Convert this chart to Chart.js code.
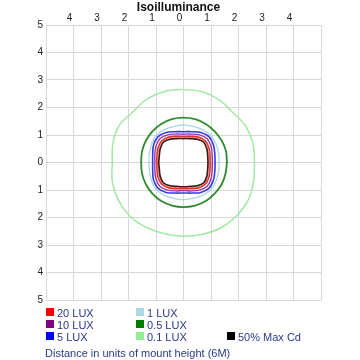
<!DOCTYPE html>
<html><head><meta charset="utf-8">
<script src="https://cdn.jsdelivr.net/npm/chart.js@4.4.0/dist/chart.umd.min.js"></script>
<style>
html,body{margin:0;padding:0;background:#fff;}
#wrap{position:relative;width:360px;height:360px;overflow:hidden;font-family:"Liberation Sans",Arial,sans-serif;}
#title{position:absolute;left:0;top:0;width:357px;text-align:center;font-weight:bold;font-size:12px;line-height:14px;color:#111;}
#cwrap{position:absolute;left:0;top:0;width:360px;height:310px;}
.sw{position:absolute;width:8px;height:8px;}
.lt{position:absolute;font-size:11px;line-height:12px;color:#2a3a8c;white-space:pre;}
</style></head><body>
<div id="wrap">
<div id="cwrap"><canvas id="c" width="360" height="310"></canvas></div>
<div id="title">Isoilluminance</div>
<div id="legend"></div>
<div class="lt" style="left:45px;top:347px;">Distance in units of mount height (6M)</div>
</div>
<script>
// axis ticks
const tickValues = [-5,-4,-3,-2,-1,0,1,2,3,4,5];
// contour sample angles (degrees)
const angles = [0,15,30,45,60,75,90,105,120,135,150,165,180,195,210,225,240,255,270,285,300,315,330,345];
// radii (units of mount height) read at each angle
const r01 = [2.58,2.62,2.62,2.56,2.62,2.66,2.65,2.67,2.66,2.60,2.70,2.66,2.59,2.68,2.74,2.76,2.72,2.68,2.68,2.70,2.74,2.74,2.72,2.64];
const r05 = [1.58,1.60,1.60,1.60,1.62,1.63,1.63,1.63,1.62,1.60,1.58,1.56,1.54,1.56,1.58,1.60,1.62,1.62,1.62,1.62,1.62,1.60,1.60,1.58];
const r1  = [1.30,1.32,1.36,1.40,1.38,1.36,1.37,1.36,1.38,1.40,1.34,1.28,1.26,1.28,1.34,1.40,1.38,1.35,1.35,1.35,1.38,1.40,1.36,1.32];
const r5  = [1.15,1.18,1.26,1.32,1.26,1.16,1.12,1.16,1.26,1.32,1.26,1.16,1.12,1.16,1.26,1.32,1.26,1.15,1.11,1.15,1.26,1.32,1.26,1.18];
const r10 = [1.05,1.08,1.16,1.22,1.16,1.07,1.03,1.07,1.16,1.22,1.16,1.08,1.04,1.08,1.16,1.22,1.16,1.07,1.02,1.07,1.16,1.22,1.16,1.08];
const r20 = [0.97,1.00,1.07,1.12,1.07,0.99,0.95,0.99,1.07,1.12,1.07,1.00,0.97,1.00,1.07,1.12,1.07,0.99,0.95,0.99,1.07,1.12,1.07,1.00];
const r20band = [0.93,0.955,1.025,1.08,1.025,0.945,0.91,0.945,1.025,1.08,1.025,0.955,0.935,0.955,1.025,1.08,1.025,0.945,0.915,0.945,1.025,1.08,1.025,0.955];
const rMax = [0.89,0.91,0.98,1.04,0.98,0.90,0.87,0.90,0.98,1.04,0.98,0.91,0.90,0.91,0.98,1.04,0.98,0.90,0.88,0.90,0.98,1.04,0.98,0.91];

const legendLabels = ['20 LUX','10 LUX','5 LUX','1 LUX','0.5 LUX','0.1 LUX','50% Max Cd'];
const legendColors = ['#ff0000','#800080','#0000ff','#add8e6','#008000','#90ee90','#000000'];

function loop(radii){
  const pts = angles.map((a,i)=>({x: radii[i]*Math.cos(a*Math.PI/180), y: radii[i]*Math.sin(a*Math.PI/180)}));
  pts.push({x: pts[0].x, y: pts[0].y});
  return pts;
}
function ds(label, radii, color, w){
  return {label, data: loop(radii), borderColor: color, borderWidth: w, showLine: true, pointRadius: 0, tension: 0.35, fill: false};
}

Chart.defaults.font.family = '"Liberation Sans", Arial, sans-serif';
const gridColor = '#d8d8d8';
new Chart(document.getElementById('c'), {
  type: 'scatter',
  data: { datasets: [
    ds('50% Max Cd', rMax, '#3a1a10', 1.6),
    ds('20 LUX', r20, '#e03030', 1.4),
    ds('20 LUX band', r20band, 'rgba(240,140,140,0.8)', 3),
    ds('10 LUX', r10, '#9a3aa0', 1.4),
    ds('5 LUX', r5, '#3a3ae8', 1.6),
    ds('1 LUX', r1, '#a8d4e8', 1.2),
    ds('0.5 LUX', r05, '#2e8b2e', 1.8),
    ds('0.1 LUX', r01, '#a4e8a4', 1.5)
  ]},
  options: {
    responsive: false, animation: false, events: [],
    layout: { padding: { left: 0, top: 0, right: 39, bottom: 10 } },
    plugins: { legend: { display: false }, tooltip: { enabled: false }, title: { display: false } },
    scales: {
      x: {
        type: 'linear', position: 'top', min: -5, max: 5,
        afterBuildTicks: s => { s.ticks = tickValues.map(v => ({value: v})); },
        afterFit: s => { s.height = 25; },
        ticks: { callback: v => Math.abs(v) === 5 ? '' : String(Math.abs(v)), labelOffset: -4, padding: 1, color: '#222', font: { size: 10 }, maxRotation: 0, autoSkip: false },
        grid: { color: gridColor, drawTicks: false },
        border: { color: gridColor }
      },
      y: {
        type: 'linear', position: 'left', min: -5, max: 5,
        afterBuildTicks: s => { s.ticks = tickValues.map(v => ({value: v})); },
        afterFit: s => { s.width = 46; },
        ticks: { callback: v => String(Math.abs(v)), padding: 3, color: '#222', font: { size: 10 }, autoSkip: false },
        grid: { color: gridColor, drawTicks: false },
        border: { color: gridColor }
      }
    }
  }
});

// legend (three columns, filled top to bottom)
const cols = [46, 136, 227];
const slots = [[0,0],[0,1],[0,2],[1,0],[1,1],[1,2],[2,2]];
const lg = document.getElementById('legend');
legendLabels.forEach((t,i)=>{
  const [c,r] = slots[i];
  const sw = document.createElement('div'); sw.className='sw';
  sw.style.left = cols[c]+'px'; sw.style.top = (308+12*r)+'px'; sw.style.background = legendColors[i];
  lg.appendChild(sw);
  const tx = document.createElement('div'); tx.className='lt';
  tx.style.left = (cols[c]+11)+'px'; tx.style.top = (307+12*r)+'px'; tx.textContent = t;
  lg.appendChild(tx);
});
</script>
</body></html>
